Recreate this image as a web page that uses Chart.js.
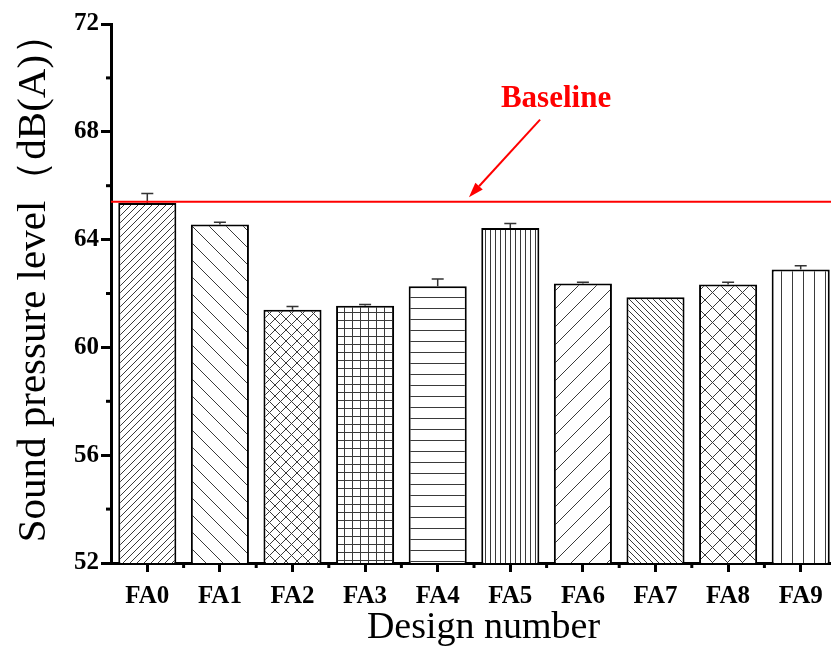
<!DOCTYPE html>
<html>
<head>
<meta charset="utf-8">
<script src="https://cdn.jsdelivr.net/npm/chart.js@4"></script>
<style>
  html, body { margin: 0; padding: 0; background: #fff; overflow: hidden; }
  #wrap { width: 840px; height: 651px; }
</style>
</head>
<body>
<div id="wrap"><canvas id="c" width="840" height="651"></canvas></div>
<script>
// ---- data ----
const categories = ['FA0','FA1','FA2','FA3','FA4','FA5','FA6','FA7','FA8','FA9'];
const soundLevel = [65.36, 64.56, 61.40, 61.55, 62.27, 64.43, 62.37, 61.86, 62.33, 62.89];
const soundError = [0.35, 0.08, 0.12, 0.04, 0.27, 0.17, 0.05, 0.00, 0.09, 0.14];
const baselineValue = 65.4;
const yTickValues = [52, 56, 60, 64, 68, 72];
const baselineLabel = 'Baseline';
// annotation anchor in data units: [category index, value]
const arrowFrom = [5.41, 68.45];
const arrowTo = [4.43, 65.57];
const labelAt = [5.63, 69.2];

// ---- hatch patterns (style) ----
const hatchStyles = [
  {type:'fwd', s:7}, {type:'back', s:17}, {type:'cross', s:11}, {type:'grid', s:8},
  {type:'horiz', s:11}, {type:'vert', s:5}, {type:'fwd', s:18}, {type:'back', s:6},
  {type:'cross', s:15}, {type:'vert', s:11}
];
function makePattern(st) {
  const s = st.s;
  const t = document.createElement('canvas');
  t.width = s; t.height = s;
  const g = t.getContext('2d');
  g.fillStyle = '#fff'; g.fillRect(0,0,s,s);
  g.strokeStyle = '#3a3a3a'; g.lineWidth = 1;
  g.beginPath();
  const fwd = () => { g.moveTo(-1, s+1); g.lineTo(s+1, -1); g.moveTo(-1, 1); g.lineTo(1, -1); g.moveTo(s-1, s+1); g.lineTo(s+1, s-1); };
  const back = () => { g.moveTo(-1, -1); g.lineTo(s+1, s+1); g.moveTo(s-1, -1); g.lineTo(s+1, 1); g.moveTo(-1, s-1); g.lineTo(1, s+1); };
  if (st.type === 'fwd') fwd();
  if (st.type === 'back') back();
  if (st.type === 'cross') { fwd(); back(); }
  if (st.type === 'horiz' || st.type === 'grid') { g.moveTo(0, 0.5); g.lineTo(s, 0.5); }
  if (st.type === 'vert' || st.type === 'grid') { g.moveTo(0.5, 0); g.lineTo(0.5, s); }
  g.stroke();
  return g.createPattern(t, 'repeat');
}
const ctx = document.getElementById('c').getContext('2d');
const patterns = hatchStyles.map(makePattern);

const FONT = "'Liberation Serif', 'Times New Roman', serif";

const extrasPlugin = {
  id: 'extras',
  afterDatasetsDraw(chart) {
    const c = chart.ctx, xs = chart.scales.x, ys = chart.scales.y, area = chart.chartArea;
    const meta = chart.getDatasetMeta(0);
    // error bars (upper half)
    c.save();
    c.strokeStyle = '#333'; c.lineWidth = 1.5;
    meta.data.forEach((bar, i) => {
      const e = soundError[i];
      if (!e) return;
      const yb = ys.getPixelForValue(soundLevel[i]);
      const yt = ys.getPixelForValue(soundLevel[i] + e);
      c.beginPath();
      c.moveTo(bar.x, yb); c.lineTo(bar.x, yt);
      c.moveTo(bar.x - 6, yt); c.lineTo(bar.x + 6, yt);
      c.stroke();
    });
    c.restore();
    // baseline
    const yB = ys.getPixelForValue(baselineValue);
    c.save();
    c.strokeStyle = '#ff0000'; c.lineWidth = 2;
    c.beginPath(); c.moveTo(area.left, yB); c.lineTo(area.right, yB); c.stroke();
    // arrow
    const catPx = v => xs.getPixelForValue(0) + v * (xs.getPixelForValue(1) - xs.getPixelForValue(0));
    const x1 = catPx(arrowFrom[0]), y1 = ys.getPixelForValue(arrowFrom[1]);
    const x2 = catPx(arrowTo[0]), y2 = ys.getPixelForValue(arrowTo[1]);
    const ang = Math.atan2(y2 - y1, x2 - x1);
    const hl = 15, hw = 5;
    const bx = x2 - hl * Math.cos(ang), by = y2 - hl * Math.sin(ang);
    c.lineWidth = 2;
    c.beginPath(); c.moveTo(x1, y1); c.lineTo(bx, by); c.stroke();
    c.fillStyle = '#ff0000';
    c.beginPath();
    c.moveTo(x2, y2);
    c.lineTo(bx + hw * Math.sin(ang), by - hw * Math.cos(ang));
    c.lineTo(bx - hw * Math.sin(ang), by + hw * Math.cos(ang));
    c.closePath(); c.fill();
    // label
    c.font = "bold 31px " + FONT;
    c.textAlign = 'center'; c.textBaseline = 'middle';
    c.fillText(baselineLabel, catPx(labelAt[0]), ys.getPixelForValue(labelAt[1]));
    c.restore();
  },
  afterDraw(chart) {
    const c = chart.ctx, xs = chart.scales.x, ys = chart.scales.y, area = chart.chartArea;
    c.save();
    c.strokeStyle = '#000'; c.lineWidth = 3;
    // minor y ticks
    for (let i = 0; i < yTickValues.length - 1; i++) {
      const v = (yTickValues[i] + yTickValues[i+1]) / 2;
      const y = ys.getPixelForValue(v);
      c.beginPath(); c.moveTo(area.left - 5, y); c.lineTo(area.left, y); c.stroke();
    }
    // minor x ticks at category boundaries
    for (let i = 1; i < categories.length; i++) {
      const x = (xs.getPixelForValue(i - 1) + xs.getPixelForValue(i)) / 2;
      c.beginPath(); c.moveTo(x, area.bottom); c.lineTo(x, area.bottom + 5); c.stroke();
    }
    c.restore();
  }
};

new Chart(ctx, {
  type: 'bar',
  data: {
    labels: categories,
    datasets: [{
      data: soundLevel,
      backgroundColor: patterns,
      borderColor: '#000',
      borderWidth: 2,
      borderSkipped: false,
      barPercentage: 0.8,
      categoryPercentage: 1.0
    }]
  },
  options: {
    responsive: false,
    animation: false,
    devicePixelRatio: 1,
    layout: { padding: { top: 24, right: 3, left: 0, bottom: 0 } },
    plugins: { legend: { display: false }, tooltip: { enabled: false } },
    scales: {
      x: {
        offset: true,
        grid: { offset: false, drawOnChartArea: false, tickLength: 9, tickWidth: 3, tickColor: '#000' },
        border: { display: true, width: 3, color: '#000' },
        ticks: { color: '#000', font: { family: FONT, size: 25, weight: 'bold' }, padding: 10, maxRotation: 0 },
        title: { display: true, text: '  Design number', color: '#000', font: { family: FONT, size: 38 }, padding: { top: 0, bottom: 0 } },
        afterFit: s => { s.height = 88; }
      },
      y: {
        min: 52, max: 72,
        afterBuildTicks: s => { s.ticks = yTickValues.map(v => ({ value: v })); },
        grid: { drawOnChartArea: false, tickLength: 10, tickWidth: 3, tickColor: '#000' },
        border: { display: true, width: 3, color: '#000' },
        ticks: { color: '#000', font: { family: FONT, size: 25, weight: 'bold' }, padding: 2 },
        title: { display: true, text: '   Sound pressure level（dB(A)）', color: '#000', font: { family: FONT, size: 41 }, padding: { top: 10, bottom: 0 } },
        afterFit: s => { s.width = 111; }
      }
    }
  },
  plugins: [extrasPlugin]
});
</script>
</body>
</html>
